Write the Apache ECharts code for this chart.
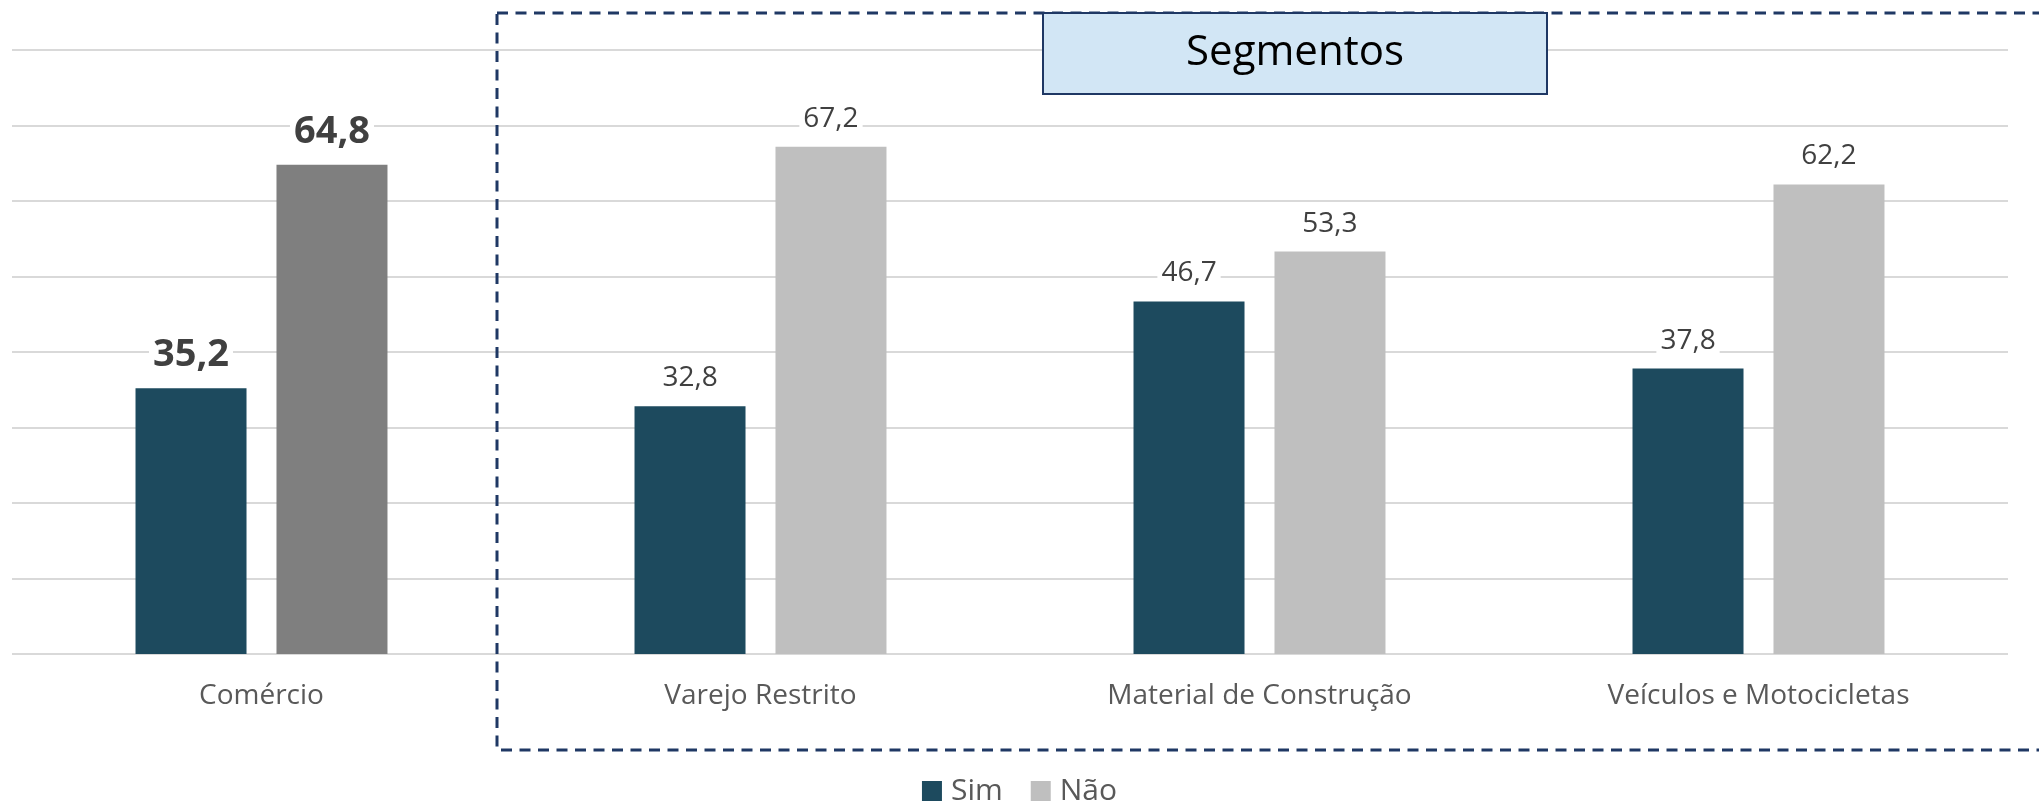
<!DOCTYPE html>
<html>
<head>
<meta charset="utf-8">
<script src="https://cdn.jsdelivr.net/npm/echarts@6/dist/echarts.min.js"></script>
<style>
  html, body { margin: 0; padding: 0; background: #fff; }
  #chart { width: 2039px; height: 803px; }
</style>
</head>
<body>
<div id="chart"></div>
<script>
// categorias e valores (%)
const categories = ['Comércio', 'Varejo Restrito', 'Material de Construção', 'Veículos e Motocicletas']
const simValues = [35.2, 32.8, 46.7, 37.8]
const naoValues = [64.8, 67.2, 53.3, 62.2]
const seriesNames = ['Sim', 'Não']

const fontFamily = '"Open Sans", "Noto Sans", sans-serif'
const navy = '#1F3864'

const boldLabel = {
  fontSize: 38,
  fontWeight: 'bold',
  color: '#404040'
}

// o primeiro item (Comércio) tem rótulo em negrito e cinza mais escuro
function buildData(values, firstColor) {
  return values.map(function (v, i) {
    if (i !== 0) return v
    const item = { value: v, label: boldLabel }
    if (firstColor) item.itemStyle = { color: firstColor }
    return item
  })
}

function fmt(p) {
  return p.value.toFixed(1).replace('.', ',')
}

const chart = echarts.init(document.getElementById('chart'))

chart.setOption({
  animation: false,
  textStyle: { fontFamily: fontFamily },
  grid: {
    left: 12,
    right: 31,
    top: 50,
    bottom: 149
  },
  legend: {
    data: seriesNames,
    left: 'center',
    top: 771,
    icon: 'rect',
    itemWidth: 20,
    itemHeight: 20,
    itemGap: 28,
    textStyle: {
      fontSize: 30,
      color: '#595959',
      padding: [0, 0, 0, 4]
    }
  },
  xAxis: {
    type: 'category',
    data: categories,
    axisLine: { show: false },
    axisTick: { show: false },
    axisLabel: {
      fontSize: 28,
      color: '#595959',
      margin: 28
    }
  },
  yAxis: {
    type: 'value',
    min: 0,
    max: 80,
    interval: 10,
    axisLabel: { show: false },
    axisLine: { show: false },
    axisTick: { show: false },
    splitLine: {
      lineStyle: { color: '#D9D9D9', width: 2 }
    }
  },
  series: [
    {
      name: 'Sim',
      type: 'bar',
      barWidth: 111,
      barGap: '27%',
      itemStyle: { color: '#1D4A5E' },
      label: {
        show: true,
        position: 'top',
        distance: 14,
        fontSize: 28,
        color: '#404040',
        backgroundColor: '#fff',
        padding: [0, 4],
        formatter: fmt
      },
      data: buildData(simValues)
    },
    {
      name: 'Não',
      type: 'bar',
      barWidth: 111,
      itemStyle: { color: '#BFBFBF' },
      label: {
        show: true,
        position: 'top',
        distance: 14,
        fontSize: 28,
        color: '#404040',
        backgroundColor: '#fff',
        padding: [0, 4],
        formatter: fmt
      },
      data: buildData(naoValues, '#7F7F7F')
    }
  ],
  graphic: [
    {
      type: 'rect',
      z: 100,
      silent: true,
      shape: { x: 497, y: 13, width: 1600, height: 737 },
      style: {
        fill: 'none',
        stroke: navy,
        lineWidth: 3,
        lineDash: [11, 7.5]
      }
    },
    {
      type: 'rect',
      z: 110,
      silent: true,
      shape: { x: 1043, y: 13, width: 504, height: 81 },
      style: { fill: '#D2E6F5', stroke: navy, lineWidth: 2 }
    },
    {
      type: 'text',
      z: 120,
      silent: true,
      x: 1295,
      y: 53,
      style: {
        text: 'Segmentos',
        fontFamily: fontFamily,
        fontSize: 42,
        fill: '#000',
        align: 'center',
        verticalAlign: 'middle'
      }
    }
  ]
})
</script>
</body>
</html>
